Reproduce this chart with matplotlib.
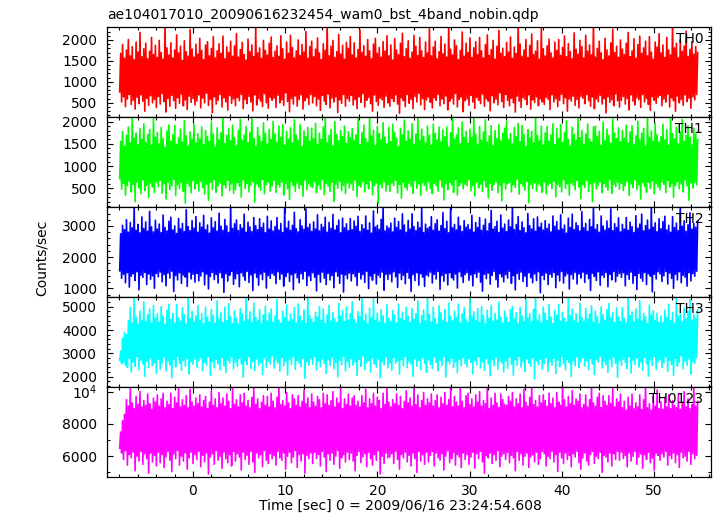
import numpy as np
import matplotlib
matplotlib.use("Agg")
import matplotlib.pyplot as plt
from matplotlib.ticker import MultipleLocator, FuncFormatter

plt.rcParams["font.family"] = "DejaVu Sans"
plt.rcParams["mathtext.default"] = "regular"

TITLE = "ae104017010_20090616232454_wam0_bst_4band_nobin.qdp"
X_LABEL = "Time [sec] 0 = 2009/06/16 23:24:54.608"
Y_LABEL = "Counts/sec"

# first / last time bin (sec)
t_first = -7.9
t_last = 54.7

# the unbinned curves are far denser than the pixels, so keep the
# upper / lower envelope of each curve (counts/sec)
th0_hi = [1680, 1890, 1560, 1760, 2010, 1620, 1840, 1530, 1950, 1710, 2180, 1600, 1790, 1920, 1550, 1730, 2060, 1650, 1870, 1580,
          1990, 1700, 1540, 2400, 1810, 1640, 1930, 1570, 1760, 2120, 1690, 1850, 1510, 1980, 1720, 1610, 2250, 1780, 1590, 1900,
          1660, 2040, 1750, 1530, 1880, 1960, 1620, 1800, 2080, 1570, 1740, 1910, 1680, 2090, 1550, 1830, 1700, 1970, 1610, 1860,
          2150, 1590, 1770, 1940, 1650, 1520, 2020, 1720, 1880, 1600, 2300, 1690, 1810, 1560, 1990, 1750, 1640, 1920, 2070, 1580,
          1730, 1860, 1610, 2100, 1790, 1540, 1950, 1680, 2110, 1820, 1570, 1740, 2000, 1630, 1890, 1710, 2200, 1560, 1840, 1970,
          1600, 1780, 2050, 1690, 1530, 1910, 1750, 2400, 1620, 1850, 1990, 1580, 1720, 2130, 1660, 1870, 1540, 1940, 1800, 2080,
          1640, 1930, 1570, 1770, 2240, 1700, 1860, 1610, 2010, 1740, 1550, 1900, 2040, 1680, 1820, 1590, 1960, 1730, 2100, 1620,
          1880, 1520, 2030, 1760, 1650, 1920, 2160, 1600, 1790, 1980, 1560, 1710, 2110, 1850, 1630, 2060, 1740, 1580, 1950, 1690,
          2270, 1620, 1830, 1970, 1550, 1720, 2080, 1670, 1900, 1590, 2400, 1780, 1640, 2000, 1860, 1530, 1750, 2190, 1610, 1920,
          1700, 2050, 1580, 1810, 1960, 1650, 2060, 1740, 1570, 1890, 2120, 1630, 1770, 1990, 1540, 1850, 2230, 1680, 1800, 1600,
          1940, 1710, 2070, 1560, 1830, 1670, 2400, 1900, 1610, 1760, 2010, 1580, 1870, 2140, 1650, 1730, 1980, 1540, 2300, 1790,
          1620, 1860, 2020, 1690, 1570, 1950, 1750, 2010, 1630, 1820, 2090, 1600, 1910, 1720, 1550, 2170, 1780, 1660, 1990, 1840,
          1570, 2110, 1730, 1880, 1640, 2400, 1590, 1800, 1970, 1690, 1530, 2040, 1760, 1620, 1930, 2260, 1700, 1850, 1580, 2000,
          1780, 1650, 1920, 2180, 1600, 1740, 2030, 1560, 1890, 2090, 1680, 1810, 1970, 1620, 2080, 1710, 1540, 1950, 1830, 2150,
          1690, 1880, 1580, 2060, 1760, 1640, 2400, 1810, 1920, 1570, 2000, 1730, 1850, 2210, 1610, 1780, 1960, 1660, 1840, 1700]
th0_lo = [760, 520, 640, 410, 590, 700, 460, 560, 350, 630, 480, 690, 540, 300, 610, 440, 670, 500, 580, 390,
          650, 470, 720, 530, 280, 600, 420, 680, 550, 370, 620, 490, 710, 430, 570, 340, 660, 510, 600, 450,
          540, 690, 380, 610, 500, 730, 440, 580, 260, 640, 470, 560, 700, 400, 620, 520, 330, 670, 490, 590,
          430, 620, 550, 700, 360, 580, 480, 650, 520, 310, 690, 450, 600, 540, 410, 720, 500, 370, 630, 560,
          610, 390, 680, 500, 570, 440, 740, 530, 290, 600, 470, 660, 420, 580, 690, 350, 550, 620, 460, 700,
          500, 650, 430, 590, 320, 680, 540, 460, 710, 380, 610, 520, 640, 270, 570, 490, 700, 420, 600, 540,
          680, 450, 580, 360, 640, 510, 720, 400, 560, 630, 480, 300, 690, 530, 440, 610, 570, 390, 660, 500,
          420, 600, 530, 690, 470, 250, 620, 550, 410, 700, 490, 580, 360, 650, 520, 730, 450, 600, 340, 570,
          640, 510, 380, 620, 560, 700, 430, 590, 480, 660, 330, 540, 610, 470, 720, 400, 580, 640, 290, 550,
          590, 440, 680, 520, 370, 630, 560, 480, 710, 420, 600, 540, 310, 670, 500, 590, 450, 740, 530, 390,
          700, 560, 430, 610, 500, 280, 660, 540, 390, 620, 580, 460, 690, 350, 570, 510, 640, 430, 600, 520,
          460, 630, 580, 340, 690, 520, 600, 410, 560, 700, 480, 620, 300, 590, 540, 660, 440, 580, 380, 650,
          610, 480, 700, 550, 420, 640, 360, 590, 530, 680, 470, 600, 260, 640, 510, 570, 430, 710, 550, 400,
          560, 650, 470, 600, 330, 690, 540, 450, 620, 580, 390, 700, 520, 610, 460, 320, 650, 560, 490, 630,
          680, 430, 590, 520, 710, 400, 620, 550, 300, 660, 500, 580, 440, 690, 530, 610, 370, 640, 570, 700]

th1_hi = [1560, 1780, 1450, 1690, 1880, 1520, 2150, 1630, 1740, 1480, 1850, 1600, 1950, 1530, 1710, 1820, 1470, 2080, 1650, 1760,
          1500, 1870, 1620, 1420, 1790, 1920, 1560, 1700, 1910, 1490, 1640, 1830, 1540, 2020, 1680, 1450, 1770, 1600, 1940, 1520,
          1730, 1610, 1880, 1480, 1800, 1670, 1550, 1990, 1720, 1430, 1860, 1590, 1750, 2100, 1510, 1690, 1840, 1570, 1920, 1640,
          1460, 1810, 2050, 1580, 1700, 1890, 1530, 1760, 2150, 1620, 1440, 1870, 1680, 1550, 1970, 1740, 1500, 1830, 1600, 2010,
          1720, 1540, 1900, 1650, 1930, 1470, 1780, 1610, 1860, 1520, 2040, 1700, 1580, 1930, 1440, 1790, 1660, 1870, 1560, 1850,
          1620, 1960, 1490, 1740, 1600, 1880, 2120, 1530, 1690, 1820, 1450, 2000, 1710, 1570, 1800, 1660, 1900, 1510, 1770, 1640,
          1840, 1580, 1700, 2060, 1480, 1750, 1920, 1620, 1530, 2150, 1680, 1810, 1460, 1890, 1730, 1590, 1980, 1650, 1500, 1870,
          1550, 1940, 1760, 1630, 1440, 1850, 1700, 2030, 1560, 1790, 1610, 1950, 1490, 1720, 2110, 1580, 1830, 1670, 1520, 1900,
          1690, 1470, 1940, 1740, 1590, 1880, 1540, 1810, 1660, 1880, 1430, 1750, 2070, 1610, 1700, 1860, 1500, 1990, 1640, 1780,
          1520, 1830, 1650, 2150, 1720, 1480, 1890, 1580, 1770, 2040, 1540, 1680, 1910, 1460, 1800, 1620, 1930, 1570, 1740, 1850,
          2000, 1600, 1730, 1500, 1870, 1660, 1960, 1550, 1910, 1710, 1440, 1820, 1630, 1780, 1520, 2090, 1690, 1580, 1900, 1470,
          1750, 1890, 1560, 1700, 1950, 1480, 1840, 1620, 1930, 1530, 1760, 2020, 1600, 1450, 1870, 1710, 1580, 2150, 1640, 1800,
          1490, 1720, 1950, 1610, 1540, 1880, 1900, 1670, 1780, 1460, 1990, 1570, 1830, 1690, 1510, 2060, 1740, 1620, 1860, 1550,
          1800, 1630, 1920, 1520, 1770, 1900, 1480, 1680, 2010, 1590, 1740, 1850, 1450, 2150, 1650, 1790, 1560, 1960, 1700, 1540,
          1660, 1940, 1590, 1820, 1470, 2150, 1730, 1610, 1880, 1500, 1770, 2050, 1560, 1690, 1910, 1640, 1480, 1850, 1720, 1600]
th1_lo = [720, 480, 610, 350, 560, 660, 420, 590, 200, 640, 510, 380, 690, 450, 570, 300, 620, 530, 410, 650,
          540, 680, 390, 600, 260, 630, 470, 560, 700, 340, 580, 500, 640, 430, 170, 610, 550, 400, 670, 490,
          600, 440, 660, 520, 370, 590, 230, 640, 480, 700, 410, 560, 620, 330, 580, 510, 680, 450, 600, 390,
          470, 630, 550, 300, 690, 500, 610, 420, 570, 650, 190, 600, 530, 460, 700, 380, 590, 640, 440, 560,
          680, 410, 590, 530, 640, 350, 610, 490, 250, 660, 560, 430, 620, 500, 580, 320, 690, 470, 600, 540,
          520, 650, 400, 580, 480, 700, 360, 610, 550, 430, 640, 210, 590, 500, 660, 450, 570, 380, 620, 510,
          600, 460, 690, 310, 570, 530, 650, 420, 600, 490, 680, 360, 560, 620, 160, 590, 510, 640, 440, 580,
          430, 620, 560, 680, 400, 590, 280, 640, 520, 470, 610, 550, 390, 670, 500, 600, 340, 630, 570, 450,
          650, 500, 380, 610, 560, 440, 690, 530, 240, 600, 470, 640, 580, 410, 700, 350, 560, 620, 490, 590,
          560, 690, 450, 570, 330, 640, 510, 600, 430, 680, 530, 290, 610, 460, 590, 650, 400, 570, 220, 630,
          490, 600, 640, 420, 580, 520, 700, 370, 610, 550, 460, 660, 180, 590, 500, 630, 440, 600, 560, 410,
          640, 380, 570, 610, 490, 660, 310, 590, 540, 420, 690, 500, 600, 350, 620, 570, 470, 680, 530, 270,
          580, 520, 680, 430, 600, 200, 640, 490, 570, 650, 400, 610, 530, 460, 700, 390, 590, 540, 630, 480,
          610, 450, 560, 660, 340, 600, 520, 690, 470, 580, 260, 630, 550, 410, 640, 500, 670, 380, 600, 530,
          470, 640, 590, 400, 680, 530, 610, 300, 570, 650, 490, 600, 420, 690, 560, 230, 620, 510, 640, 580]

th2_hi = [2750, 3020, 2880, 3200, 2800, 3110, 2940, 3650, 2860, 3050, 2780, 3290, 2920, 3130, 2830, 3470, 2970, 2810, 3180, 2900,
          3060, 2790, 3350, 2950, 2840, 3150, 3280, 2870, 3000, 2760, 3240, 2910, 3080, 2820, 3520, 2980, 2850, 3170, 2930, 3300,
          2800, 3100, 2960, 3340, 2880, 3030, 2770, 3260, 2940, 3140, 2830, 3410, 2990, 2860, 3210, 3000, 2790, 3650, 2920, 3070,
          3190, 2850, 3040, 2930, 3380, 2800, 3120, 2970, 2820, 3270, 3010, 2880, 3230, 2950, 3090, 2780, 3310, 2900, 3160, 2840,
          2980, 3270, 2870, 3080, 2790, 3650, 2930, 3150, 2860, 3020, 3440, 2910, 2810, 3200, 3000, 2890, 3550, 2950, 3060, 2830,
          3130, 2900, 3360, 2840, 3050, 2960, 3280, 2800, 3110, 2920, 3370, 2870, 3010, 3190, 2780, 3250, 2940, 3070, 2850, 3240,
          2880, 3160, 2990, 3310, 2820, 3040, 2910, 3320, 2860, 3100, 2770, 3480, 2960, 3020, 2890, 3210, 3650, 2840, 3000, 2930,
          3090, 2810, 3250, 2950, 3140, 2870, 3390, 3030, 2800, 3180, 2900, 3390, 2980, 2850, 3120, 2940, 3560, 2790, 3060, 2920,
          2970, 3300, 2860, 3070, 3200, 2830, 3010, 3430, 2910, 3150, 2780, 3650, 2940, 3050, 2870, 3280, 3000, 2820, 3170, 2960,
          3040, 2890, 3340, 2800, 3110, 2950, 3270, 2860, 3020, 3220, 2840, 3080, 3500, 2900, 2980, 3150, 2790, 3350, 2930, 3060,
          2820, 3190, 2970, 3650, 2880, 3050, 3300, 2850, 3130, 2940, 2780, 3400, 3010, 2900, 3230, 2830, 3290, 2960, 3090, 2870,
          3170, 2920, 3060, 2810, 3320, 2990, 3140, 2860, 3360, 2900, 3030, 2770, 3250, 2950, 3380, 2880, 3100, 3010, 2840, 3460,
          2940, 3080, 2830, 3210, 2970, 3650, 2890, 3040, 2800, 3320, 3000, 2870, 3160, 2920, 3550, 2850, 3070, 2950, 3260, 2810,
          3050, 2900, 3270, 2860, 3120, 2980, 2790, 3330, 2930, 3060, 3380, 2840, 3010, 3190, 2880, 3650, 2960, 3100, 2820, 3230,
          2910, 3140, 3310, 2870, 3020, 2800, 3300, 2950, 3090, 2850, 3650, 2990, 3170, 2830, 3040, 3420, 2900, 3080, 2960, 3150]
th2_lo = [1560, 1320, 1450, 1180, 1500, 1040, 1390, 1470, 1250, 1530, 950, 1420, 1350, 1510, 1120, 1460, 1290, 1400, 1000, 1480,
          1370, 1520, 1210, 1440, 1080, 1490, 1330, 1550, 900, 1410, 1270, 1500, 1160, 1430, 1360, 1060, 1520, 1300, 1450, 1200,
          1480, 1240, 1400, 1530, 1110, 1460, 980, 1380, 1510, 1280, 1440, 1170, 1500, 1340, 870, 1470, 1230, 1420, 1550, 1130,
          1310, 1470, 1050, 1500, 1390, 1260, 1540, 1190, 1430, 930, 1490, 1350, 1100, 1460, 1280, 1520, 1010, 1410, 1320, 1480,
          1420, 1150, 1530, 1290, 1460, 1070, 1380, 1510, 1220, 1440, 960, 1490, 1340, 1180, 1470, 1300, 1550, 1090, 1400, 1250,
          1500, 1360, 920, 1450, 1200, 1520, 1330, 1120, 1480, 1270, 1410, 1020, 1530, 1390, 1160, 1460, 880, 1430, 1310, 1490,
          1240, 1470, 1380, 1090, 1510, 1300, 1440, 1190, 1550, 990, 1400, 1260, 1480, 1140, 1420, 1350, 1520, 940, 1450, 1290,
          1460, 1210, 1530, 1370, 1030, 1490, 1280, 1420, 1150, 1510, 1320, 900, 1440, 1250, 1500, 1100, 1470, 1360, 1060, 1430,
          1390, 1520, 1170, 1450, 1300, 1540, 970, 1410, 1230, 1480, 1110, 1500, 1340, 1270, 1460, 1010, 1530, 1380, 1190, 1440,
          1500, 1260, 1430, 1080, 1470, 1350, 1520, 1200, 910, 1450, 1310, 1490, 1130, 1420, 1540, 1280, 1040, 1470, 1370, 1210,
          1440, 1330, 1550, 1160, 1410, 950, 1480, 1290, 1520, 1220, 1390, 1060, 1500, 1340, 1180, 1460, 1250, 1530, 860, 1420,
          1280, 1490, 1120, 1450, 1360, 1510, 1020, 1430, 1240, 1540, 1170, 1400, 1470, 980, 1440, 1300, 1510, 1140, 1460, 1330,
          1520, 1190, 1460, 1310, 930, 1490, 1380, 1250, 1530, 1100, 1420, 1350, 1500, 1050, 1450, 1270, 1540, 1210, 1390, 1480,
          1350, 1500, 1080, 1440, 1290, 1520, 1160, 1410, 960, 1480, 1330, 1230, 1510, 1120, 1470, 1390, 890, 1450, 1300, 1530,
          1460, 1220, 1400, 1540, 1140, 1490, 1320, 1000, 1450, 1270, 1530, 1180, 1420, 1360, 1070, 1500, 1240, 1470, 1390, 1550]

th3_hi = [3100, 3650, 3900, 3800, 4400, 4950, 4300, 5450, 4550, 4250, 4800, 4400, 5200, 4350, 4650, 4900, 4280, 5050, 4500, 4700,
          4330, 5000, 4600, 4250, 4850, 5100, 4450, 4700, 4300, 5100, 4520, 4380, 4950, 4650, 4260, 5450, 4480, 4800, 4350, 4600,
          5050, 4420, 4700, 4270, 4980, 4550, 4350, 4880, 4620, 4300, 5250, 4460, 4750, 4320, 4980, 4400, 5120, 4580, 4280, 4830,
          4500, 4260, 4920, 4680, 4350, 5450, 4440, 4780, 4310, 5150, 4560, 4400, 4870, 4270, 4640, 5020, 4380, 4720, 4900, 4330,
          4600, 5300, 4420, 4290, 4810, 4530, 5060, 4360, 4690, 4450, 4960, 4300, 5120, 4580, 4400, 4850, 4270, 5450, 4620, 4480,
          4340, 4760, 4560, 5000, 4410, 4900, 4280, 4650, 5050, 4380, 4740, 4470, 4320, 5140, 4600, 4830, 4360, 4990, 4430, 4700,
          5200, 4450, 4300, 4790, 4570, 5450, 4390, 4680, 4260, 4940, 4520, 5350, 4410, 4720, 4340, 4880, 4600, 4290, 5080, 4500,
          4370, 4840, 4640, 4300, 5100, 4490, 4750, 4410, 4970, 4580, 4330, 4910, 4460, 4700, 5250, 4280, 4620, 4860, 4390, 5450,
          4660, 4350, 4970, 4480, 4260, 5030, 4730, 4420, 4870, 4310, 5150, 4590, 4380, 4810, 4540, 5110, 4300, 4690, 4950, 4440,
          4310, 5450, 4590, 4780, 4400, 4920, 4340, 5000, 4620, 4270, 4850, 4500, 5060, 4370, 4710, 4430, 5200, 4560, 4290, 4800,
          4540, 4330, 4880, 5010, 4470, 4740, 4290, 4960, 4600, 4380, 5300, 4510, 4700, 4350, 4890, 5450, 4420, 4650, 4310, 4990,
          4720, 4410, 5090, 4560, 4280, 4840, 4630, 5100, 4370, 4760, 4490, 4320, 5450, 4600, 4900, 4400, 4690, 4300, 5150, 4540,
          4380, 4920, 4470, 4700, 5040, 4330, 4810, 4590, 4270, 5000, 4660, 4420, 4870, 5130, 4500, 4740, 4310, 4960, 4550, 4360,
          4950, 4490, 4300, 5450, 4620, 4780, 4350, 4900, 4460, 5250, 4390, 4700, 4570, 4280, 5060, 4640, 4830, 4410, 4720, 4330,
          4600, 4320, 4850, 4520, 5100, 4400, 4750, 4290, 5450, 4580, 4690, 4360, 4940, 4470, 4800, 5300, 4420, 4660, 4510, 4880]
th3_lo = [2700, 2550, 2620, 2500, 2400, 2780, 2200, 2650, 2450, 2860, 2300, 2720, 2560, 2020, 2680, 2390, 2810, 2480, 2600, 2150,
          2750, 2330, 2590, 2840, 2250, 2670, 2510, 1950, 2730, 2420, 2880, 2580, 2280, 2700, 2460, 2800, 2120, 2640, 2540, 2760,
          2410, 2690, 2830, 2260, 2610, 2500, 2870, 2050, 2660, 2380, 2740, 2560, 2300, 2820, 2470, 2180, 2710, 2590, 2850, 2340,
          2630, 2440, 2790, 2560, 1980, 2700, 2520, 2850, 2360, 2650, 2270, 2760, 2490, 2610, 2100, 2830, 2400, 2680, 2550, 2890,
          2370, 2720, 2600, 2240, 2810, 2460, 2660, 2080, 2750, 2530, 2870, 2320, 2690, 2580, 2430, 2790, 1930, 2640, 2500, 2770,
          2540, 2860, 2290, 2670, 2430, 2760, 2570, 2150, 2720, 2480, 2840, 2350, 2620, 2000, 2700, 2520, 2880, 2250, 2660, 2410,
          2780, 2500, 2630, 2060, 2740, 2450, 2890, 2310, 2590, 2690, 2200, 2820, 2550, 2420, 2760, 1960, 2650, 2510, 2850, 2380,
          2600, 2280, 2800, 2570, 2680, 2110, 2730, 2470, 2860, 2390, 2640, 2540, 2020, 2770, 2450, 2710, 2300, 2830, 2580, 2190,
          2720, 2530, 2350, 2840, 2610, 2260, 2690, 2490, 2870, 1990, 2660, 2560, 2780, 2400, 2630, 2170, 2750, 2460, 2810, 2570,
          2440, 2770, 2620, 2130, 2700, 2510, 2860, 2380, 2650, 2280, 2790, 2550, 2040, 2730, 2470, 2840, 2330, 2680, 2590, 2210,
          2680, 2360, 2830, 2540, 2070, 2720, 2490, 2880, 2410, 2640, 2230, 2770, 2580, 2450, 2810, 1920, 2690, 2520, 2760, 2320,
          2570, 2820, 2240, 2660, 2500, 2790, 2140, 2710, 2430, 2870, 2560, 2290, 2740, 2610, 2010, 2690, 2470, 2850, 2390, 2630,
          2810, 2460, 2700, 2300, 2780, 2550, 2090, 2730, 2620, 2880, 2370, 2670, 2510, 2190, 2760, 2440, 2840, 2580, 1970, 2700,
          2490, 2750, 2610, 2350, 2860, 2160, 2690, 2530, 2800, 2420, 2640, 2270, 2830, 2560, 2030, 2720, 2480, 2870, 2310, 2650,
          2720, 2400, 2590, 2850, 2220, 2700, 2520, 2060, 2780, 2460, 2630, 2890, 2340, 2680, 2500, 2760, 2120, 2640, 2570, 2820]

th0123_hi = [7500, 8200, 8600, 9500, 9100, 10300, 9300, 8950, 9700, 9200, 10000, 9050, 9450, 9150, 9850, 9250, 8900, 9600, 9350, 9800,
             9100, 9550, 9900, 9000, 9400, 9200, 9900, 8950, 9650, 9300, 10300, 9050, 9500, 9150, 9750, 9000, 10150, 9350, 9100, 9600,
             9250, 9800, 9050, 9450, 9700, 8950, 9350, 10050, 9150, 9550, 9000, 9950, 9250, 9600, 9100, 9850, 9400, 8950, 10300, 9200,
             9500, 9050, 9800, 9300, 9900, 9100, 9450, 9000, 9650, 10200, 9200, 9550, 8950, 9350, 9750, 9150, 9700, 9050, 9900, 9400,
             9000, 9650, 10300, 9200, 9450, 9100, 9950, 9300, 8950, 9800, 9550, 9150, 9750, 9050, 9400, 10100, 9250, 9600, 9000, 9850,
             9350, 9100, 9700, 9500, 9000, 9900, 9250, 9800, 9150, 9450, 10000, 9050, 9600, 9300, 10300, 8950, 9550, 9200, 9850, 9100,
             9600, 9750, 9150, 9400, 9050, 9750, 9300, 10150, 9000, 9550, 9250, 9900, 9100, 9650, 9450, 8950, 9900, 9200, 10300, 9350,
             9050, 9500, 9250, 9850, 9150, 9700, 8950, 9400, 10050, 9300, 9600, 9100, 10300, 9200, 9800, 9000, 9450, 9950, 9150, 9550,
             9300, 9850, 9100, 9450, 9800, 9000, 9650, 9250, 9950, 9150, 9500, 10300, 9050, 9700, 9350, 9100, 10200, 9400, 9000, 9750,
             9900, 9200, 9550, 9050, 9800, 9350, 10000, 9100, 9450, 9250, 10300, 8950, 9600, 9150, 9900, 9300, 9000, 9850, 9500, 9200,
             9150, 9700, 9400, 9950, 9050, 9550, 9250, 9850, 9000, 10150, 9350, 9100, 9650, 10300, 9200, 9450, 9050, 9750, 9300, 9800,
             9450, 9100, 9900, 9250, 9600, 9000, 9950, 9350, 9150, 10300, 9500, 9050, 9700, 9250, 10050, 9150, 9550, 9400, 9850, 9000,
             9200, 9800, 9050, 9500, 10300, 9300, 9100, 9650, 9900, 9000, 9750, 9400, 9150, 9750, 9250, 10200, 9050, 9550, 9350, 9850,
             9000, 9400, 8850, 9650, 9100, 9850, 8950, 9300, 9050, 9800, 8900, 9500, 10300, 9000, 9250, 8850, 9700, 9100, 10100, 8950,
             9350, 8900, 9600, 9050, 9800, 8950, 9450, 9150, 9000, 9850, 8900, 9300, 10000, 9050, 9550, 8950, 9200, 10300, 9100, 9400]
th0123_lo = [6500, 6200, 5800, 6350, 5450, 6100, 5900, 6250, 5100, 6000, 5700, 6300, 5500, 6150, 5850, 4950, 6200, 5650, 6050, 5400,
             6250, 5600, 6100, 5300, 5950, 6300, 5750, 5050, 6150, 5850, 6350, 5450, 6000, 5700, 6200, 5200, 5900, 6250, 5550, 6100,
             5800, 6300, 5350, 6050, 5650, 6200, 4900, 5950, 6150, 5500, 6350, 5750, 6000, 5250, 6250, 5850, 5600, 6100, 5400, 6300,
             5700, 6150, 5950, 5150, 6250, 5800, 6050, 5500, 6300, 5650, 5000, 6200, 5900, 6100, 5350, 6350, 5750, 5550, 6150, 5850,
             6050, 5450, 6300, 5900, 5750, 6200, 5200, 6000, 6250, 5600, 5950, 6350, 5300, 6100, 5700, 6150, 4950, 6050, 5850, 6200,
             5550, 6250, 5850, 6100, 5400, 6300, 5950, 5050, 6150, 5750, 6200, 5500, 6000, 6350, 5250, 5900, 6100, 5650, 6250, 5800,
             6200, 5700, 5100, 6050, 6300, 5600, 5950, 6150, 5350, 6250, 5850, 5450, 6100, 5750, 6350, 4900, 6000, 5550, 6200, 5900,
             5950, 6150, 5550, 6300, 5800, 5200, 6100, 5900, 6250, 5650, 6050, 5400, 6200, 5850, 5000, 6300, 5700, 6100, 5500, 6250,
             5650, 6050, 6300, 5400, 6200, 5900, 5750, 6150, 5150, 6000, 6350, 5600, 5850, 6250, 5450, 6100, 5950, 5300, 6200, 5800,
             6100, 5500, 5950, 6250, 5250, 6150, 5850, 6300, 5650, 4950, 6050, 5900, 6200, 5550, 6100, 5750, 6350, 5350, 6000, 6150,
             5800, 6250, 5600, 6050, 5900, 5100, 6300, 5750, 6150, 5450, 6000, 6200, 5300, 5950, 6100, 5650, 6250, 5500, 5850, 6300,
             6150, 5400, 6000, 5850, 6300, 5650, 6100, 5050, 6250, 5900, 5550, 6200, 5800, 6050, 5350, 6150, 5950, 6300, 5600, 5200,
             5900, 6200, 5700, 5450, 6100, 6300, 5550, 6000, 5850, 6250, 5000, 6050, 5950, 5650, 6200, 5400, 6150, 5800, 6300, 5750,
             6250, 5850, 6050, 5350, 6200, 5700, 6000, 6300, 5500, 5950, 6150, 5250, 6100, 5800, 6250, 5600, 5900, 5150, 6200, 6050,
             5750, 6150, 5950, 6300, 5450, 6050, 5850, 6200, 5600, 6100, 5300, 6250, 5900, 6000, 5700, 6300, 5500, 6150, 5850, 6050]

bands = ["TH0", "TH1", "TH2", "TH3", "TH0123"]
upper = [th0_hi, th1_hi, th2_hi, th3_hi, th0123_hi]
lower = [th0_lo, th1_lo, th2_lo, th3_lo, th0123_lo]
colors = ["#ff0000", "#00ff00", "#0000ff", "#00ffff", "#ff00ff"]
y_limits = [(160, 2310), (80, 2105), (720, 3610), (1560, 5415), (4710, 10290)]
y_major = [500, 500, 1000, 1000, 2000]
y_minor = [100, 100, 200, 200, 1000]

W, H = 717, 516
fig = plt.figure(figsize=(W / 100, H / 100), dpi=100)

left, right = 107 / W, 711 / W
top, bottom = 1 - 27 / H, 1 - 477 / H
ph = (top - bottom) / len(bands)


def sci_label(v, pos):
    if v >= 10000:
        return r"$10^{4}$"
    return "%d" % v


for i, (name, hi, lo, col) in enumerate(zip(bands, upper, lower, colors)):
    ax = fig.add_axes([left, top - (i + 1) * ph, right - left, ph])
    n = min(len(hi), len(lo))
    t = np.linspace(t_first, t_last, n)
    dt = t[1] - t[0]
    # trace the curve through the min and max of every bin, as the
    # dense light curve does on screen
    x = np.empty(2 * n)
    y = np.empty(2 * n)
    x[0::2] = t - dt / 4
    x[1::2] = t + dt / 4
    y[0::2] = lo[:n]
    y[1::2] = hi[:n]
    ax.plot(x, y, color=col, lw=1.2)
    ax.set_xlim(-9.33, 56.2)
    ax.set_ylim(*y_limits[i])

    ax.xaxis.set_major_locator(MultipleLocator(10))
    ax.xaxis.set_minor_locator(MultipleLocator(2))
    ax.yaxis.set_major_locator(MultipleLocator(y_major[i]))
    ax.yaxis.set_minor_locator(MultipleLocator(y_minor[i]))
    if name == "TH0123":
        ax.yaxis.set_major_formatter(FuncFormatter(sci_label))

    ax.tick_params(which="both", direction="in", top=True, right=True,
                   labelsize=10, width=0.8, color="black")
    ax.tick_params(which="major", length=4.5)
    ax.tick_params(which="minor", length=2.5)
    ax.tick_params(axis="y", pad=7)
    ax.tick_params(axis="x", pad=5)
    if i < len(bands) - 1:
        ax.tick_params(axis="x", labelbottom=False)
    for sp in ax.spines.values():
        sp.set_linewidth(0.9)
        sp.set_zorder(3)

    ax.text(0.987, 0.945, name, transform=ax.transAxes, ha="right", va="top",
            fontsize=10, zorder=4)

fig.text(left, 1 - 15 / H, TITLE, ha="left", va="center", fontsize=10)
fig.text(42 / W, 1 - 258 / H, Y_LABEL, rotation=90, ha="center", va="center",
         fontsize=10)
fig.text(400 / W, 1 - 506 / H, X_LABEL, ha="center", va="center", fontsize=10)

fig.savefig("out.png", dpi=100)
